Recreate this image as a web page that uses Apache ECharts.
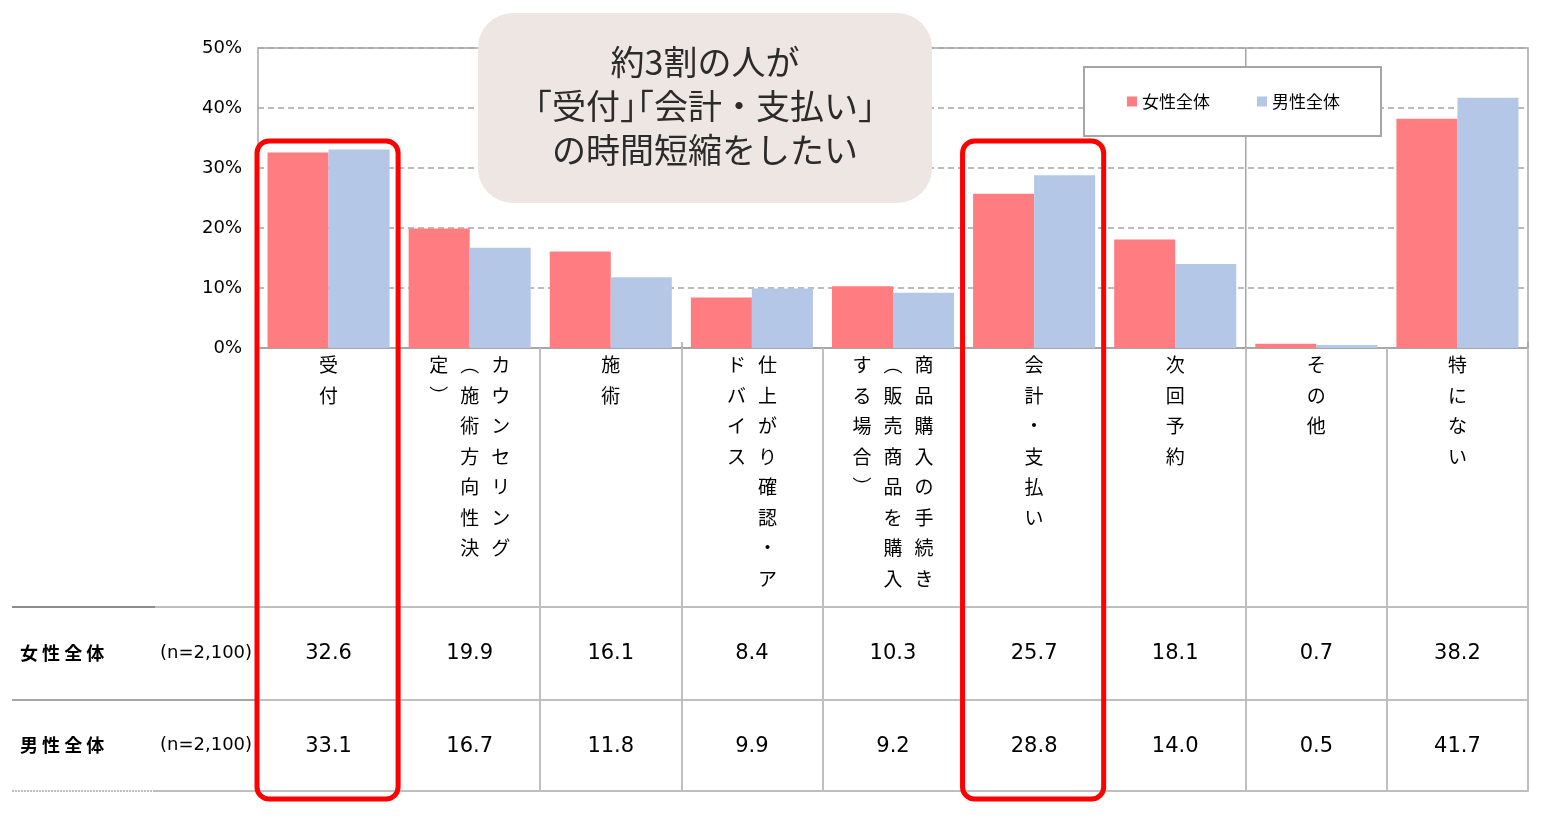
<!DOCTYPE html>
<html><head><meta charset="utf-8">
<script src="https://cdn.jsdelivr.net/npm/echarts@6/dist/echarts.min.js"></script>
<style>html,body{margin:0;padding:0;background:#fff}#c{width:1552px;height:834px}</style>
</head><body><div id="c"></div>
<script>
// ---- data ----
const categories = ['受付','カウンセリング（施術方向性決定）','施術','仕上がり確認・アドバイス','商品購入の手続き（販売商品を購入する場合）','会計・支払い','次回予約','その他','特にない'];
// vertical label columns (first column is drawn rightmost)
const labelColumns = [
  ['受付'],
  ['カウンセリング','︵施術方向性決','定︶'],
  ['施術'],
  ['仕上がり確認・ア','ドバイス'],
  ['商品購入の手続き','︵販売商品を購入','する場合︶'],
  ['会計・支払い'],
  ['次回予約'],
  ['その他'],
  ['特にない']
];
const seriesNames = ['女性全体','男性全体'];
const femaleValues = [32.6,19.9,16.1,8.4,10.3,25.7,18.1,0.7,38.2];
const maleValues = [33.1,16.7,11.8,9.9,9.2,28.8,14.0,0.5,41.7];
const sampleLabel = '(n=2,100)';
const yMin = 0, yMax = 50, yInterval = 10;
const highlightIdx = [0, 5];
const separatorIdx = 7;
const calloutLines = ['約3割の人が','｢受付｣｢会計・支払い｣','の時間短縮をしたい'];

// ---- layout constants ----
const ROW1 = 259, ROW2 = 352, ROW3 = 443;
const FONT = 'Noto Sans CJK JP';
const LINE = '#BFBFBF';

function verticalLabel(i){
  const cols = labelColumns[i].map(s => [...s]);
  const rows = Math.max(...cols.map(c => c.length));
  const lines = [];
  for (let r = 0; r < rows; r++){
    let s = '';
    for (let c = cols.length - 1; c >= 0; c--){
      s += '{c|' + (cols[c][r] || '　') + '}';
    }
    lines.push(s);
  }
  return lines.join('\n');
}

const chart = echarts.init(document.getElementById('c'));
const valueAxisLabel = (vals, margin) => ({
  interval: 0, margin: margin, fontSize: 21, lineHeight: 21, color: '#000',
  fontFamily: 'DejaVu Sans', formatter: (v, i) => vals[i].toFixed(1)
});
chart.setOption({
  animation: false,
  textStyle: { fontFamily: FONT },
  grid: { left: 258, right: 24, top: 48, bottom: 486, show: true, borderColor: '#A6A6A6', borderWidth: 1.5, outerBoundsMode: 'none' },
  legend: {
    left: 1084, top: 67, data: seriesNames, icon: 'rect', itemWidth: 10, itemHeight: 10, itemGap: 47,
    padding: [26, 41, 26, 43], backgroundColor: '#fff', borderColor: '#A6A6A6', borderWidth: 2,
    textStyle: { fontSize: 17, color: '#000', fontFamily: FONT }
  },
  xAxis: [
    { type: 'category', data: categories, position: 'bottom',
      axisLine: { show: true, onZero: false, lineStyle: { color: '#A6A6A6', width: 2 } },
      axisTick: { show: true, inside: false, length: ROW3, lineStyle: { color: LINE, width: 2 } },
      axisLabel: { interval: 0, margin: 2, formatter: (v, i) => verticalLabel(i),
        rich: { c: { width: 31, align: 'center', fontSize: 19, lineHeight: 30.5, color: '#000', fontFamily: FONT } } },
      splitLine: { show: false } },
    { type: 'category', data: categories, position: 'bottom', offset: ROW1,
      axisLine: { show: true, onZero: false, lineStyle: { color: LINE, width: 2 } },
      axisTick: { show: false }, axisLabel: valueAxisLabel(femaleValues, 36) },
    { type: 'category', data: categories, position: 'bottom', offset: ROW2,
      axisLine: { show: true, onZero: false, lineStyle: { color: LINE, width: 2 } },
      axisTick: { show: false }, axisLabel: valueAxisLabel(maleValues, 36) },
    { type: 'category', data: categories, position: 'bottom', offset: ROW3,
      axisLine: { show: true, onZero: false, lineStyle: { color: LINE, width: 2 } },
      axisTick: { show: false }, axisLabel: { show: false } },
    { type: 'category', data: categories, position: 'bottom',
      axisLine: { show: false, onZero: false },
      axisTick: { show: true, inside: true, length: 6, lineStyle: { color: '#A6A6A6', width: 1.5 } },
      axisLabel: { show: false }, splitLine: { show: false } }
  ],
  yAxis: {
    type: 'value', min: yMin, max: yMax, interval: yInterval,
    axisLine: { show: false }, axisTick: { show: false },
    axisLabel: { formatter: '{value}%', fontSize: 18, color: '#000', fontFamily: 'DejaVu Sans', margin: 16 },
    splitLine: { show: true, lineStyle: { color: '#A6A6A6', width: 1.5, type: [6, 4] } }
  },
  series: [
    { name: seriesNames[0], type: 'bar', data: femaleValues, itemStyle: { color: '#FF7C80' }, barGap: '0%', barCategoryGap: '13.5%' },
    { name: seriesNames[1], type: 'bar', data: maleValues, itemStyle: { color: '#B4C7E7' }, barGap: '0%', barCategoryGap: '13.5%' }
  ]
});

// ---- annotations & table side labels, positioned from the axes ----
const cx = i => chart.convertToPixel({ xAxisIndex: 0 }, categories[i]);
const band = cx(1) - cx(0);
const bnd = k => cx(0) - band / 2 + k * band;
const y0 = chart.convertToPixel({ yAxisIndex: 0 }, 0);
const y50 = chart.convertToPixel({ yAxisIndex: 0 }, yMax);
const yTop = chart.convertToPixel({ yAxisIndex: 0 }, 34.5);
const gL = bnd(0);
const graphics = [];
// single vertical separator inside plot
graphics.push({ type: 'line', z: 1, shape: { x1: bnd(separatorIdx), y1: y50, x2: bnd(separatorIdx), y2: y0 }, style: { stroke: '#A6A6A6', lineWidth: 1.5 } });
// left part of table lines
graphics.push({ type: 'line', shape: { x1: 12, y1: y0 + ROW1, x2: 155, y2: y0 + ROW1 }, style: { stroke: '#8C8C8C', lineWidth: 2 } });
graphics.push({ type: 'line', shape: { x1: 155, y1: y0 + ROW1, x2: gL, y2: y0 + ROW1 }, style: { stroke: LINE, lineWidth: 2 } });
graphics.push({ type: 'line', shape: { x1: 12, y1: y0 + ROW2, x2: gL, y2: y0 + ROW2 }, style: { stroke: '#A6A6A6', lineWidth: 2 } });
graphics.push({ type: 'line', shape: { x1: 12, y1: y0 + ROW3, x2: 155, y2: y0 + ROW3 }, style: { stroke: LINE, lineWidth: 2, lineDash: [2, 1] } });
graphics.push({ type: 'line', shape: { x1: 155, y1: y0 + ROW3, x2: gL, y2: y0 + ROW3 }, style: { stroke: LINE, lineWidth: 2 } });
// row labels
const rowMid1 = y0 + (ROW1 + ROW2) / 2, rowMid2 = y0 + (ROW2 + ROW3) / 2;
[[seriesNames[0], rowMid1], [seriesNames[1], rowMid2]].forEach(([t, y]) => {
  graphics.push({ type: 'text', x: 20, y: y, style: { text: t.split('').join(' '), font: 'bold 18px "Noto Sans CJK JP"', fill: '#000', textVerticalAlign: 'middle' } });
  graphics.push({ type: 'text', x: 160, y: y, style: { text: sampleLabel, font: '18px "DejaVu Sans"', fill: '#000', textVerticalAlign: 'middle' } });
});
// callout box
graphics.push({ type: 'rect', z: 20, shape: { x: 478, y: 13, width: 454, height: 190, r: 35 }, style: { fill: '#EEE6E3' } });
graphics.push({ type: 'text', z: 21, x: 705, y: 106, style: { text: calloutLines.join('\n'), font: '34px "Noto Sans CJK JP"', lineHeight: 44, fill: '#2b2b2b', textAlign: 'center', textVerticalAlign: 'middle' } });
// red highlight boxes
highlightIdx.forEach(i => {
  const l = bnd(i) - 1, r = bnd(i + 1) - 1;
  graphics.push({ type: 'rect', z: 30, shape: { x: l, y: yTop, width: r - l, height: y0 + ROW3 + 8 - yTop, r: 12 }, style: { fill: 'none', stroke: '#FF0000', lineWidth: 5 } });
});
chart.setOption({ graphic: graphics });
</script></body></html>
